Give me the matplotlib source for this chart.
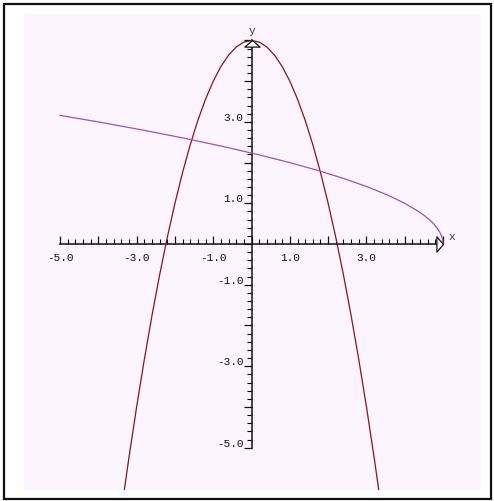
import matplotlib
matplotlib.use('Agg')
import matplotlib.pyplot as plt
from matplotlib.ticker import FixedLocator, FuncFormatter
from matplotlib.patches import Rectangle

# red parabola, points
parab_x = [-3.4, -3.2, -3.0, -2.8, -2.6, -2.4, -2.2, -2.0, -1.8, -1.6, -1.4, -1.2,
           -1.0, -0.8, -0.6, -0.4, -0.2, 0.0, 0.2, 0.4, 0.6, 0.8, 1.0, 1.2, 1.4,
           1.6, 1.8, 2.0, 2.2, 2.4, 2.6, 2.8, 3.0, 3.2, 3.4]
parab_y = [-6.56, -5.24, -4.00, -2.84, -1.76, -0.76, 0.16, 1.00, 1.76, 2.44, 3.04, 3.56,
           4.00, 4.36, 4.64, 4.84, 4.96, 5.00, 4.96, 4.84, 4.64, 4.36, 4.00, 3.56, 3.04,
           2.44, 1.76, 1.00, 0.16, -0.76, -1.76, -2.84, -4.00, -5.24, -6.56]

# purple sideways curve
side_x = [5.00, 4.99, 4.96, 4.91, 4.84, 4.75, 4.64, 4.51, 4.36, 4.00, 3.56, 3.04,
          2.44, 1.76, 1.00, 0.16, -0.76, -1.76, -2.84, -4.00, -5.00]
side_y = [0.00, 0.10, 0.20, 0.30, 0.40, 0.50, 0.60, 0.70, 0.80, 1.00, 1.20, 1.40,
          1.60, 1.80, 2.00, 2.20, 2.40, 2.60, 2.80, 3.00, 3.16]

major_ticks = [-5, -4, -3, -2, -1, 0, 1, 2, 3, 4, 5]
minor_ticks = [i / 5 for i in range(-25, 26)]

fig = plt.figure(figsize=(4.94, 5.02), dpi=100)
fig.patch.set_facecolor('white')

# outer frame
fig.patches.append(Rectangle((3.5 / 494, 2.5 / 502), 487 / 494, 495 / 502,
                             transform=fig.transFigure, fill=False,
                             edgecolor='#111111', linewidth=1.6))

ax = fig.add_axes([24 / 494, 11 / 502, 457 / 494, 476 / 502])
ax.set_facecolor('#fdf5fd')
ax.set_xlim(-5.94, 5.99)
ax.set_ylim(-6.04, 5.65)

ax.plot(parab_x, parab_y, color='#8c1414', linewidth=0.9, zorder=3)
ax.plot(side_x, side_y, color='#a64cbc', linewidth=0.9, zorder=3)

# axes through the origin
for s in ['top', 'right']:
    ax.spines[s].set_visible(False)
ax.spines['bottom'].set_position(('data', 0))
ax.spines['left'].set_position(('data', 0))
ax.spines['bottom'].set_bounds(-5, 5)
ax.spines['left'].set_bounds(-5, 5)
for s in ['bottom', 'left']:
    ax.spines[s].set_linewidth(1.1)
    ax.spines[s].set_color('#111111')

ax.xaxis.set_major_locator(FixedLocator(major_ticks))
ax.xaxis.set_minor_locator(FixedLocator(minor_ticks))
ax.yaxis.set_major_locator(FixedLocator(major_ticks))
ax.yaxis.set_minor_locator(FixedLocator(minor_ticks))


def odd_only(v, pos):
    n = int(round(v))
    if n % 2 == 0 or n >= 5:
        return ''
    return f'{v:.1f}'


ax.xaxis.set_major_formatter(FuncFormatter(odd_only))
ax.yaxis.set_major_formatter(FuncFormatter(odd_only))

ax.tick_params(axis='x', which='major', direction='in', length=6, width=0.9, pad=6,
               labelsize=8, colors='#111111')
ax.tick_params(axis='x', which='minor', direction='in', length=3.5, width=0.8)
ax.tick_params(axis='y', which='major', direction='out', length=6, width=0.9, pad=0,
               labelsize=8, colors='#111111')
ax.tick_params(axis='y', which='minor', direction='out', length=3.5, width=0.8)
for lab in ax.get_yticklabels():
    lab.set_verticalalignment('bottom')
for lab in ax.get_xticklabels() + ax.get_yticklabels():
    lab.set_family('Liberation Mono')

# open arrow heads at the positive ends
ax.plot([5], [0], marker=[(0, 0), (-6.5, 7.5), (-6.5, -7.5), (0, 0)], markersize=11,
        markerfacecolor='white', markeredgecolor='#111111', markeredgewidth=0.9,
        clip_on=False, zorder=4)
ax.plot([0], [5], marker=[(0, 0), (7.5, -6.5), (-7.5, -6.5), (0, 0)], markersize=11,
        markerfacecolor='white', markeredgecolor='#111111', markeredgewidth=0.9,
        clip_on=False, zorder=4)

ax.text(5.22, 0.2, 'x', fontsize=8, family='Liberation Mono', color='#333333',
        ha='center', va='center')
ax.text(0, 5.25, 'y', fontsize=8, family='Liberation Mono', color='#333333',
        ha='center', va='center')

fig.savefig('out.png', dpi=100)
